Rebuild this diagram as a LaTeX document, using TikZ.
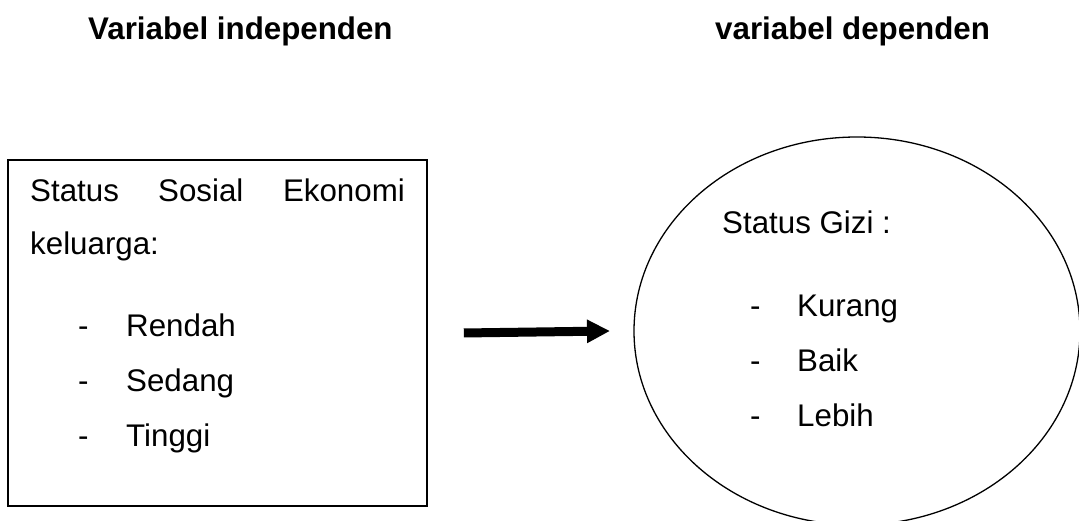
\documentclass[tikz,border=0pt]{standalone}
\usepackage{fontspec}
\setmainfont{Liberation Sans}
\usetikzlibrary{arrows.meta}
\begin{document}
\begin{tikzpicture}[x=1pt,y=1pt,
  txt/.style={inner sep=0pt,anchor=base west,font=\fontsize{31.3}{36}\selectfont},
  ttl/.style={inner sep=0pt,anchor=base west,font=\fontsize{31.3}{36}\selectfont\bfseries},
  boxshape/.style={draw,line width=1.6pt,rectangle,minimum width=419pt,minimum height=346pt,inner sep=0pt},
  bigarrow/.style={line width=9pt,-{Triangle[length=23pt,width=22pt]}}]
\useasboundingbox (0,0) rectangle (1079,521);
% titles
\node[ttl] (t1) at (88,481) {Variabel independen};
\node[ttl] (t2) at (715,481) {variabel dependen};
% box
\node[boxshape] (box) at (217.5,188) {};
\node[txt] (s1) at (30,319) {Status};
\node[txt] (s2) at (158,319) {Sosial};
\node[txt,anchor=base east] (s3) at (405,319) {Ekonomi};
\node[txt] (s4) at (30,266) {keluarga:};
\node[txt] (d1) at (78,184) {-};
\node[txt] (i1) at (126,184) {Rendah};
\node[txt] (d2) at (78,129) {-};
\node[txt] (i2) at (126,129) {Sedang};
\node[txt] (d3) at (78,74) {-};
\node[txt] (i3) at (126,74) {Tinggi};
% ellipse
\begin{scope}
\clip (0,0) rectangle (1079,521);
\draw[line width=1.3pt] (857,190) ellipse [x radius=223pt, y radius=194pt];
\end{scope}
\coordinate (ell) at (634,190);
\node[txt] (g0) at (722,287) {Status Gizi :};
\node[txt] (e1) at (750,204) {-};
\node[txt] (g1) at (797,204) {Kurang};
\node[txt] (e2) at (750,149) {-};
\node[txt] (g2) at (797,149) {Baik};
\node[txt] (e3) at (750,94) {-};
\node[txt] (g3) at (797,94) {Lebih};
% arrow
\draw[bigarrow] ([xshift=36pt]box.east) -- ([xshift=-24pt]ell);
\end{tikzpicture}
\end{document}
